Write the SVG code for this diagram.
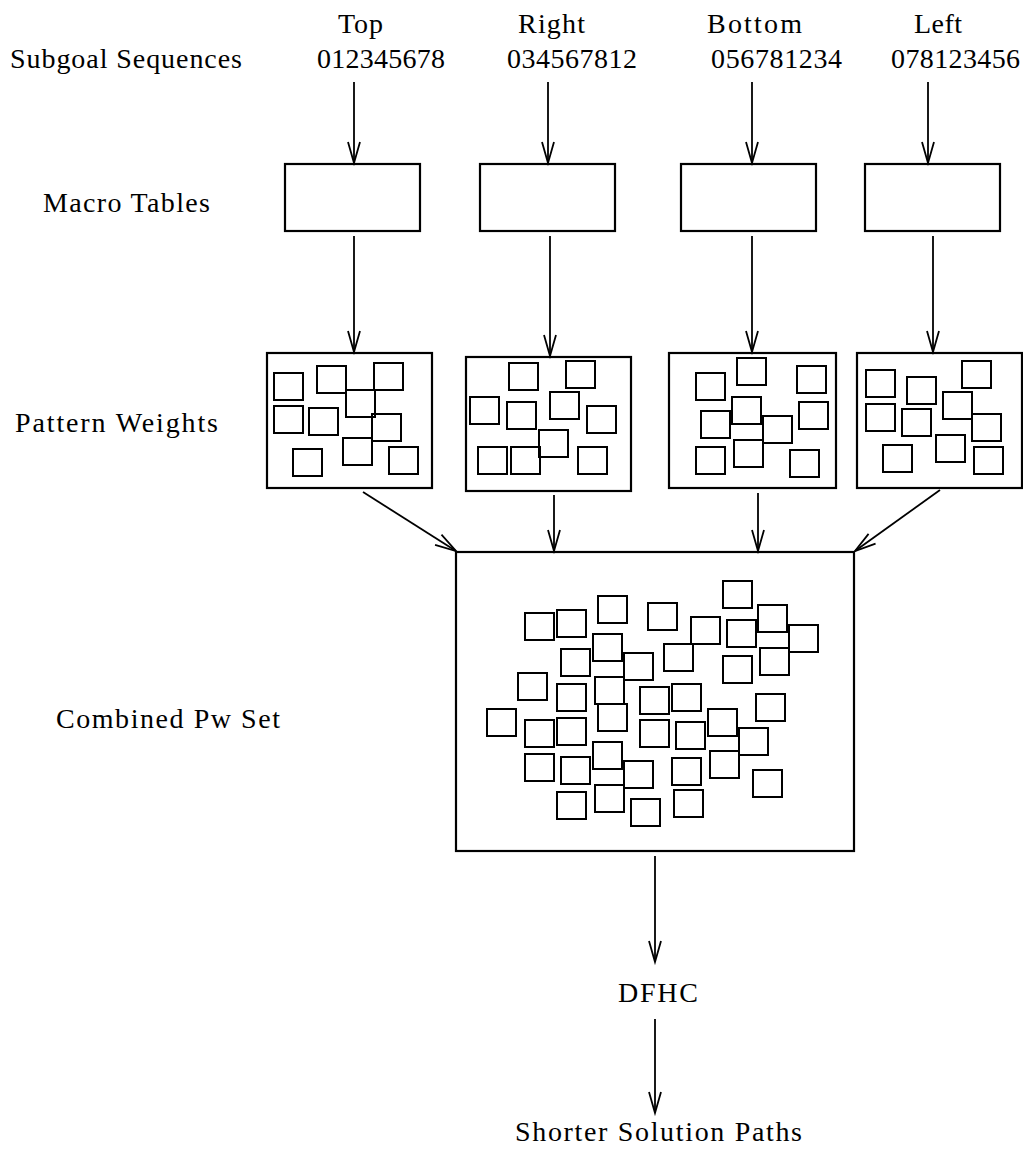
<svg xmlns="http://www.w3.org/2000/svg" width="1023" height="1156" viewBox="0 0 1023 1156">
<style>
text{font-family:"Liberation Serif","Times New Roman",serif;font-size:28px;fill:#000}
.box{fill:none;stroke:#000;stroke-width:2.2}
.sq{fill:none;stroke:#000;stroke-width:2}
.con line{stroke:#000;stroke-width:1.8;fill:none;marker-end:url(#ah)}
</style>
<defs>
<marker id="ah" markerUnits="userSpaceOnUse" viewBox="-24 -8 26 16" refX="0" refY="0" markerWidth="26" markerHeight="16" orient="auto" overflow="visible">
<path d="M-21,-6 L0,0 L-21,6" fill="none" stroke="#000" stroke-width="1.8"/>
</marker>
<rect id="s" width="29" height="27" class="sq"/>
</defs>
<rect width="1023" height="1156" fill="#fff"/>

<g id="row-labels">
<text x="10" y="68" textLength="232" lengthAdjust="spacing">Subgoal Sequences</text>
<text x="43" y="212" textLength="167" lengthAdjust="spacing">Macro Tables</text>
<text x="15" y="432" textLength="203" lengthAdjust="spacing">Pattern Weights</text>
<text x="56" y="728" textLength="224" lengthAdjust="spacing">Combined Pw Set</text>
</g>

<g id="seq-top">
<text x="338" y="33" textLength="45" lengthAdjust="spacing">Top</text>
<text x="317" y="68" textLength="128" lengthAdjust="spacing">012345678</text>
</g>
<g id="seq-right">
<text x="518" y="33" textLength="67" lengthAdjust="spacing">Right</text>
<text x="507" y="68" textLength="130" lengthAdjust="spacing">034567812</text>
</g>
<g id="seq-bottom">
<text x="707" y="33" textLength="95" lengthAdjust="spacing">Bottom</text>
<text x="711" y="68" textLength="131" lengthAdjust="spacing">056781234</text>
</g>
<g id="seq-left">
<text x="914" y="33" textLength="48" lengthAdjust="spacing">Left</text>
<text x="891" y="68" textLength="129" lengthAdjust="spacing">078123456</text>
</g>

<g id="macro-top"><rect class="box" x="285" y="164" width="135" height="67"/></g>
<g id="macro-right"><rect class="box" x="480" y="164" width="135" height="67"/></g>
<g id="macro-bottom"><rect class="box" x="681" y="164" width="135" height="67"/></g>
<g id="macro-left"><rect class="box" x="865" y="164" width="135" height="67"/></g>

<g id="pw-top">
<rect class="box" x="267" y="353" width="165" height="135"/>
<use href="#s" x="274" y="373"/><use href="#s" x="317" y="366"/><use href="#s" x="374" y="363"/>
<use href="#s" x="346" y="390"/><use href="#s" x="274" y="406"/><use href="#s" x="309" y="408"/>
<use href="#s" x="372" y="414"/><use href="#s" x="343" y="438"/><use href="#s" x="293" y="449"/>
<use href="#s" x="389" y="447"/>
</g>
<g id="pw-right">
<rect class="box" x="466" y="357" width="165" height="134"/>
<use href="#s" x="509" y="363"/><use href="#s" x="566" y="361"/><use href="#s" x="470" y="397"/>
<use href="#s" x="507" y="402"/><use href="#s" x="550" y="392"/><use href="#s" x="587" y="406"/>
<use href="#s" x="539" y="430"/><use href="#s" x="478" y="447"/><use href="#s" x="511" y="447"/>
<use href="#s" x="578" y="447"/>
</g>
<g id="pw-bottom">
<rect class="box" x="669" y="353" width="167" height="135"/>
<use href="#s" x="696" y="373"/><use href="#s" x="737" y="358"/><use href="#s" x="797" y="366"/>
<use href="#s" x="732" y="397"/><use href="#s" x="701" y="411"/><use href="#s" x="763" y="416"/>
<use href="#s" x="799" y="402"/><use href="#s" x="696" y="447"/><use href="#s" x="734" y="440"/>
<use href="#s" x="790" y="450"/>
</g>
<g id="pw-left">
<rect class="box" x="857" y="353" width="165" height="135"/>
<use href="#s" x="866" y="370"/><use href="#s" x="907" y="377"/><use href="#s" x="962" y="361"/>
<use href="#s" x="866" y="404"/><use href="#s" x="902" y="409"/><use href="#s" x="943" y="392"/>
<use href="#s" x="972" y="414"/><use href="#s" x="936" y="435"/><use href="#s" x="883" y="445"/>
<use href="#s" x="974" y="447"/>
</g>

<g id="combined">
<rect class="box" x="456" y="552" width="398" height="299"/>
<use href="#s" x="525" y="613"/><use href="#s" x="557" y="610"/><use href="#s" x="598" y="596"/>
<use href="#s" x="648" y="603"/><use href="#s" x="723" y="581"/><use href="#s" x="691" y="617"/>
<use href="#s" x="727" y="620"/><use href="#s" x="758" y="605"/><use href="#s" x="789" y="625"/>
<use href="#s" x="561" y="649"/><use href="#s" x="593" y="634"/><use href="#s" x="624" y="653"/>
<use href="#s" x="664" y="644"/><use href="#s" x="723" y="656"/><use href="#s" x="760" y="648"/>
<use href="#s" x="518" y="673"/><use href="#s" x="557" y="684"/><use href="#s" x="595" y="677"/>
<use href="#s" x="640" y="687"/><use href="#s" x="672" y="684"/><use href="#s" x="756" y="694"/>
<use href="#s" x="487" y="709"/><use href="#s" x="525" y="720"/><use href="#s" x="557" y="718"/>
<use href="#s" x="598" y="704"/><use href="#s" x="640" y="720"/><use href="#s" x="676" y="722"/>
<use href="#s" x="708" y="709"/><use href="#s" x="739" y="728"/>
<use href="#s" x="525" y="754"/><use href="#s" x="561" y="757"/><use href="#s" x="593" y="742"/>
<use href="#s" x="624" y="761"/><use href="#s" x="672" y="758"/><use href="#s" x="710" y="751"/>
<use href="#s" x="753" y="770"/>
<use href="#s" x="557" y="792"/><use href="#s" x="595" y="785"/><use href="#s" x="631" y="799"/>
<use href="#s" x="674" y="790"/>
</g>

<g id="dfhc"><text x="618" y="1002" textLength="80" lengthAdjust="spacing">DFHC</text></g>
<g id="shorter"><text x="515" y="1141" textLength="287" lengthAdjust="spacing">Shorter Solution Paths</text></g>

<g id="connectors" class="con">
<line x1="354" y1="82" x2="354" y2="163"/>
<line x1="548" y1="82" x2="548" y2="163"/>
<line x1="752" y1="82" x2="752" y2="163"/>
<line x1="928" y1="82" x2="928" y2="163"/>
<line x1="354" y1="236" x2="354" y2="352"/>
<line x1="550" y1="236" x2="550" y2="356"/>
<line x1="752" y1="236" x2="752" y2="352"/>
<line x1="933" y1="236" x2="933" y2="352"/>
<line x1="363" y1="492" x2="456" y2="551"/>
<line x1="554" y1="495" x2="554" y2="551"/>
<line x1="758" y1="493" x2="758" y2="551"/>
<line x1="940" y1="490" x2="855" y2="551"/>
<line x1="655" y1="856" x2="655" y2="962"/>
<line x1="655" y1="1019" x2="655" y2="1113"/>
</g>
</svg>
